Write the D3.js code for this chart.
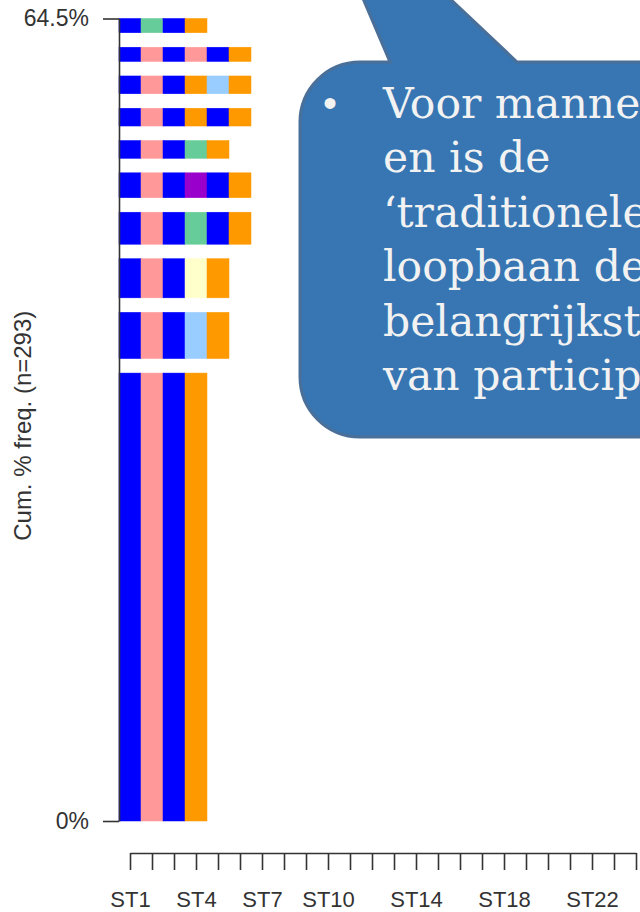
<!DOCTYPE html>
<html>
<head>
<meta charset="utf-8">
<script src="https://cdn.jsdelivr.net/npm/d3@7"></script>
<style>
    body { margin: 0; background: #ffffff; overflow: hidden; }
    #chart_container { width: 640px; height: 912px; }
</style>
</head>
<body>
<div id="chart_container"></div>
<script>

// sequence frequencies (count out of N_TOTAL), from bottom (most frequent) to top
var SEQ_FREQ = [126, 13, 11, 9, 7, 5, 5, 5, 4, 4];
// state at each time point, same order as SEQ_FREQ
var SEQ_STATES = [
    ["A", "B", "A", "D"],
    ["A", "B", "A", "E", "D"],
    ["A", "B", "A", "G", "D"],
    ["A", "B", "A", "C", "A", "D"],
    ["A", "B", "A", "F", "A", "D"],
    ["A", "B", "A", "C", "D"],
    ["A", "B", "A", "D", "A", "D"],
    ["A", "B", "A", "D", "E", "D"],
    ["A", "B", "A", "B", "A", "D"],
    ["A", "C", "A", "D"]
];
var STATE_CODES = ["A", "B", "C", "D", "E", "F", "G"];
var STATE_COLORS = ["#0000ff", "#ff9999", "#66cc99", "#ff9900", "#99ccff", "#9900cc", "#ffffcc"];
var TIME_LABELS = ["ST1", "ST2", "ST3", "ST4", "ST5", "ST6", "ST7", "ST8", "ST9", "ST10",
    "ST11", "ST12", "ST13", "ST14", "ST15", "ST16", "ST17", "ST18", "ST19", "ST20",
    "ST21", "ST22", "ST23", "ST24"];
var N_TOTAL = 293;
var Y_TITLE = "Cum. % freq. (n=" + N_TOTAL + ")";
var BUBBLE_LINES = ["Voor mannen", "en is de", "\u2018traditionele\u2019", "loopbaan de", "belangrijkste", "van participatie"];

var W = 640, H = 912;
var plot = {left: 119, top: 18.5, bottom: 821, colW: 22, xAxisY: 853};
var BAR_SPACE = 0.216;   // gap between bars, fraction of mean bar height
var AXIS_COL = "#333333";
var AXIS_FONT = "'Liberation Sans', Arial, sans-serif";

var svg = d3.select("#chart_container").append("svg")
    .attr("width", W)
    .attr("height", H);

// ---- y scale: stacked frequencies plus gaps
var gap = BAR_SPACE * d3.mean(SEQ_FREQ);
var cum = [0];
SEQ_FREQ.forEach(function(f, i){ cum.push(cum[i] + f); });
var yTotal = cum[SEQ_FREQ.length] + gap * (SEQ_FREQ.length - 1);

var y = d3.scaleLinear()
    .domain([0, yTotal])
    .range([plot.bottom, plot.top]);

var x = d3.scaleBand()
    .domain(TIME_LABELS)
    .range([plot.left, plot.left + plot.colW * TIME_LABELS.length])
    .padding(0);

var colour = d3.scaleOrdinal().domain(STATE_CODES).range(STATE_COLORS);

// ---- sequence bars
var rows = svg.append("g").selectAll("g")
    .data(SEQ_FREQ)
    .enter()
    .append("g");

rows.each(function(f, i){
    var y0 = cum[i] + i * gap;
    var cells = SEQ_STATES[i].map(function(s, t){ return {state: s, time: TIME_LABELS[t]}; });
    d3.select(this).selectAll("rect")
        .data(cells)
        .enter()
        .append("rect")
        .attr("x", function(d){ return x(d.time); })
        .attr("width", x.bandwidth())
        .attr("y", y(y0 + f))
        .attr("height", y(y0) - y(y0 + f))
        .attr("fill", function(d){ return colour(d.state); })
        .attr("stroke", function(d){ return colour(d.state); })
        .attr("stroke-width", 0.5);
});

// ---- y axis
var pctTotal = d3.format(".1f")(cum[SEQ_FREQ.length] / N_TOTAL * 100) + "%";
var yAxis = svg.append("g")
    .attr("transform", "translate(" + plot.left + ",0)")
    .call(d3.axisLeft(y)
        .tickValues([0, yTotal])
        .tickFormat(function(d){ return d === 0 ? "0%" : pctTotal; })
        .tickSize(16)
        .tickSizeOuter(0)
        .tickPadding(14));
yAxis.select(".domain").attr("stroke", AXIS_COL).attr("stroke-width", 1.6);
yAxis.selectAll(".tick line").attr("stroke", AXIS_COL).attr("stroke-width", 1.6);
yAxis.selectAll("text")
    .attr("fill", AXIS_COL)
    .style("font-family", AXIS_FONT)
    .style("font-size", "23px");

svg.append("text")
    .attr("transform", "translate(31," + ((plot.top + plot.bottom) / 2 + 6) + ") rotate(-90)")
    .attr("text-anchor", "middle")
    .attr("fill", AXIS_COL)
    .style("font-family", AXIS_FONT)
    .style("font-size", "24px")
    .text(Y_TITLE);

// ---- x axis (ticks at column centres, line from first to last tick)
var xp = d3.scalePoint()
    .domain(TIME_LABELS)
    .range([x(TIME_LABELS[0]) + x.bandwidth() / 2,
            x(TIME_LABELS[TIME_LABELS.length - 1]) + x.bandwidth() / 2]);

var xAxis = svg.append("g")
    .attr("transform", "translate(0," + plot.xAxisY + ")")
    .call(d3.axisBottom(xp)
        .tickSize(17)
        .tickSizeOuter(0)
        .tickPadding(21));
xAxis.select(".domain").attr("stroke", AXIS_COL).attr("stroke-width", 1.6);
xAxis.selectAll(".tick line").attr("stroke", AXIS_COL).attr("stroke-width", 1.6);
var xLabels = xAxis.selectAll("text")
    .attr("fill", AXIS_COL)
    .style("font-family", AXIS_FONT)
    .style("font-size", "22px");

// drop labels that would overlap (like R's gap.axis = 1 "m")
var mProbe = xAxis.append("text").style("font-family", AXIS_FONT)
    .style("font-size", "22px").text("m");
var mW = mProbe.node().getComputedTextLength();
mProbe.remove();
var lastRight = -Infinity;
xLabels.each(function(d){
    var w = this.getComputedTextLength();
    var cx = xp(d);
    if (cx - w / 2 >= lastRight + mW) {
        lastRight = cx + w / 2;
    } else {
        d3.select(this).remove();
    }
});

// ---- speech bubble overlay
var bub = {left: 300, top: 62, right: 720, bottom: 437, r: 60};
var tail = [[390, bub.top], [305, -138], [517, bub.top]];
var p = d3.path();
p.moveTo(bub.left + bub.r, bub.top);
p.lineTo(tail[0][0], tail[0][1]);
p.lineTo(tail[1][0], tail[1][1]);
p.lineTo(tail[2][0], tail[2][1]);
p.lineTo(bub.right, bub.top);
p.lineTo(bub.right, bub.bottom);
p.lineTo(bub.left + bub.r, bub.bottom);
p.arcTo(bub.left, bub.bottom, bub.left, bub.bottom - bub.r, bub.r);
p.lineTo(bub.left, bub.top + bub.r);
p.arcTo(bub.left, bub.top, bub.left + bub.r, bub.top, bub.r);
p.closePath();

svg.append("path")
    .attr("d", p.toString())
    .attr("fill", "#3776b2")
    .attr("stroke", "#4a6f99")
    .attr("stroke-width", 3);

svg.append("text")
    .attr("x", 330)
    .attr("y", 117)
    .attr("text-anchor", "middle")
    .attr("fill", "#f2f2f2")
    .style("font-family", AXIS_FONT)
    .style("font-size", "40px")
    .text("\u2022");

svg.append("g").selectAll("text")
    .data(BUBBLE_LINES)
    .enter()
    .append("text")
    .attr("x", 383)
    .attr("y", function(d, i){ return 118 + i * 54.4; })
    .attr("fill", "#f2f2f2")
    .style("font-family", "'DejaVu Serif', serif")
    .style("font-size", "42.5px")
    .text(function(d){ return d; });

</script>
</body>
</html>
